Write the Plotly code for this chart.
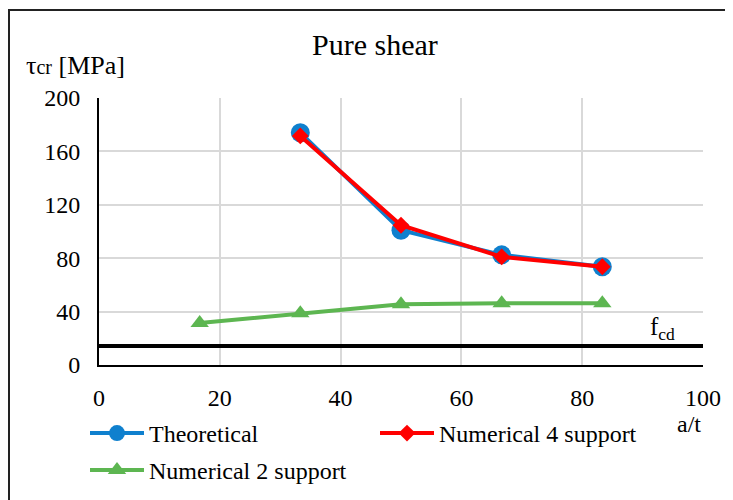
import plotly.graph_objects as go

# ---- data ----
x_theo = [33.33, 50.0, 66.67, 83.33]
y_theo = [174.0, 101.0, 82.5, 73.6]

x_num4 = [33.33, 50.0, 66.67, 83.33]
y_num4 = [171.6, 104.7, 81.0, 73.6]

x_num2 = [16.67, 33.33, 50.0, 66.67, 83.33]
y_num2 = [31.5, 38.8, 45.5, 46.3, 46.3]

FCD = 14.17

x_ticks = [0, 20, 40, 60, 80, 100]
y_ticks = [0, 40, 80, 120, 160, 200]

FONT = "Liberation Serif, Times New Roman, serif"
BLUE = "#0F80CE"
RED = "#FF0000"
GREEN = "#5DB651"

# page offset (default body margin) and plot-area geometry in pixels
OFF = 8
W, H = 733, 500
L, R, T, B = 99 - OFF, 733 - (703 - OFF), 98 - OFF, 500 - (365 - OFF)
PW, PH = W - L - R, H - T - B


def px(p):
    """screen x pixel -> paper x"""
    return (p - OFF - L) / PW


def py(p):
    """screen y pixel -> paper y"""
    return (H - B - (p - OFF)) / PH


fig = go.Figure()

fig.add_trace(go.Scatter(
    x=x_theo, y=y_theo, name="Theoretical", mode="lines+markers",
    line=dict(color=BLUE, width=4),
    marker=dict(symbol="circle", size=19, color=BLUE),
    legend="legend",
))
fig.add_trace(go.Scatter(
    x=x_num4, y=y_num4, name="Numerical 4 support", mode="lines+markers",
    line=dict(color=RED, width=4),
    marker=dict(symbol="diamond", size=13, color=RED),
    legend="legend",
))
fig.add_trace(go.Scatter(
    x=x_num2, y=y_num2, name="Numerical 2 support", mode="lines+markers",
    line=dict(color=GREEN, width=4),
    marker=dict(symbol="triangle-up", size=16, color=GREEN),
    legend="legend2",
))

shapes = [
    dict(type="line", xref="paper", x0=0, x1=1, yref="y", y0=FCD, y1=FCD,
         line=dict(color="black", width=4), layer="above"),
    dict(type="rect", xref="paper", yref="paper",
         x0=px(9), x1=px(760), y0=py(520), y1=py(10),
         line=dict(color="#222222", width=2), layer="above"),
]

annotations = [
    dict(text="Pure shear", xref="paper", yref="paper", x=px(375), y=py(45),
         xanchor="center", yanchor="middle", showarrow=False,
         font=dict(family=FONT, size=30, color="black")),
    dict(text="τ<span style='font-size:20px'>cr</span> [MPa]", xref="paper", yref="paper",
         x=px(24), y=py(66), xanchor="left", yanchor="middle", showarrow=False,
         font=dict(family=FONT, size=26, color="black")),
    dict(text="a/t", xref="paper", yref="paper", x=px(689), y=py(424),
         xanchor="center", yanchor="middle", showarrow=False,
         font=dict(family=FONT, size=24, color="black")),
    dict(text="f<sub>cd</sub>", xref="paper", yref="y", x=px(662), y=FCD,
         xanchor="center", yanchor="bottom", yshift=0, showarrow=False,
         font=dict(family=FONT, size=25, color="black")),
]

fig.update_layout(
    width=W, height=H,
    margin=dict(l=L, r=R, t=T, b=B, autoexpand=False),
    paper_bgcolor="white", plot_bgcolor="white",
    font=dict(family=FONT, size=24, color="black"),
    shapes=shapes, annotations=annotations,
    legend=dict(orientation="h", x=px(85), y=py(411), xanchor="left", yanchor="top",
                entrywidth=221, itemwidth=54, font=dict(family=FONT, size=24),
                bgcolor="rgba(0,0,0,0)", tracegroupgap=0),
    legend2=dict(orientation="h", x=px(85), y=py(448), xanchor="left", yanchor="top",
                 itemwidth=54, font=dict(family=FONT, size=24),
                 bgcolor="rgba(0,0,0,0)"),
)

fig.update_xaxes(
    range=[0, 100], tickvals=x_ticks, ticktext=[str(v) for v in x_ticks],
    showgrid=True, gridcolor="#D9D9D9", gridwidth=1.5,
    showline=True, linecolor="black", linewidth=2,
    zeroline=False, ticks="", ticklabelstandoff=10,
    tickfont=dict(family=FONT, size=24),
)
fig.update_yaxes(
    range=[0, 200], tickvals=y_ticks, ticktext=[str(v) for v in y_ticks],
    showgrid=True, gridcolor="#D9D9D9", gridwidth=1.5,
    showline=True, linecolor="black", linewidth=2,
    zeroline=False, ticks="", ticklabelstandoff=12,
    tickfont=dict(family=FONT, size=24),
)

fig.write_html("out.html")
